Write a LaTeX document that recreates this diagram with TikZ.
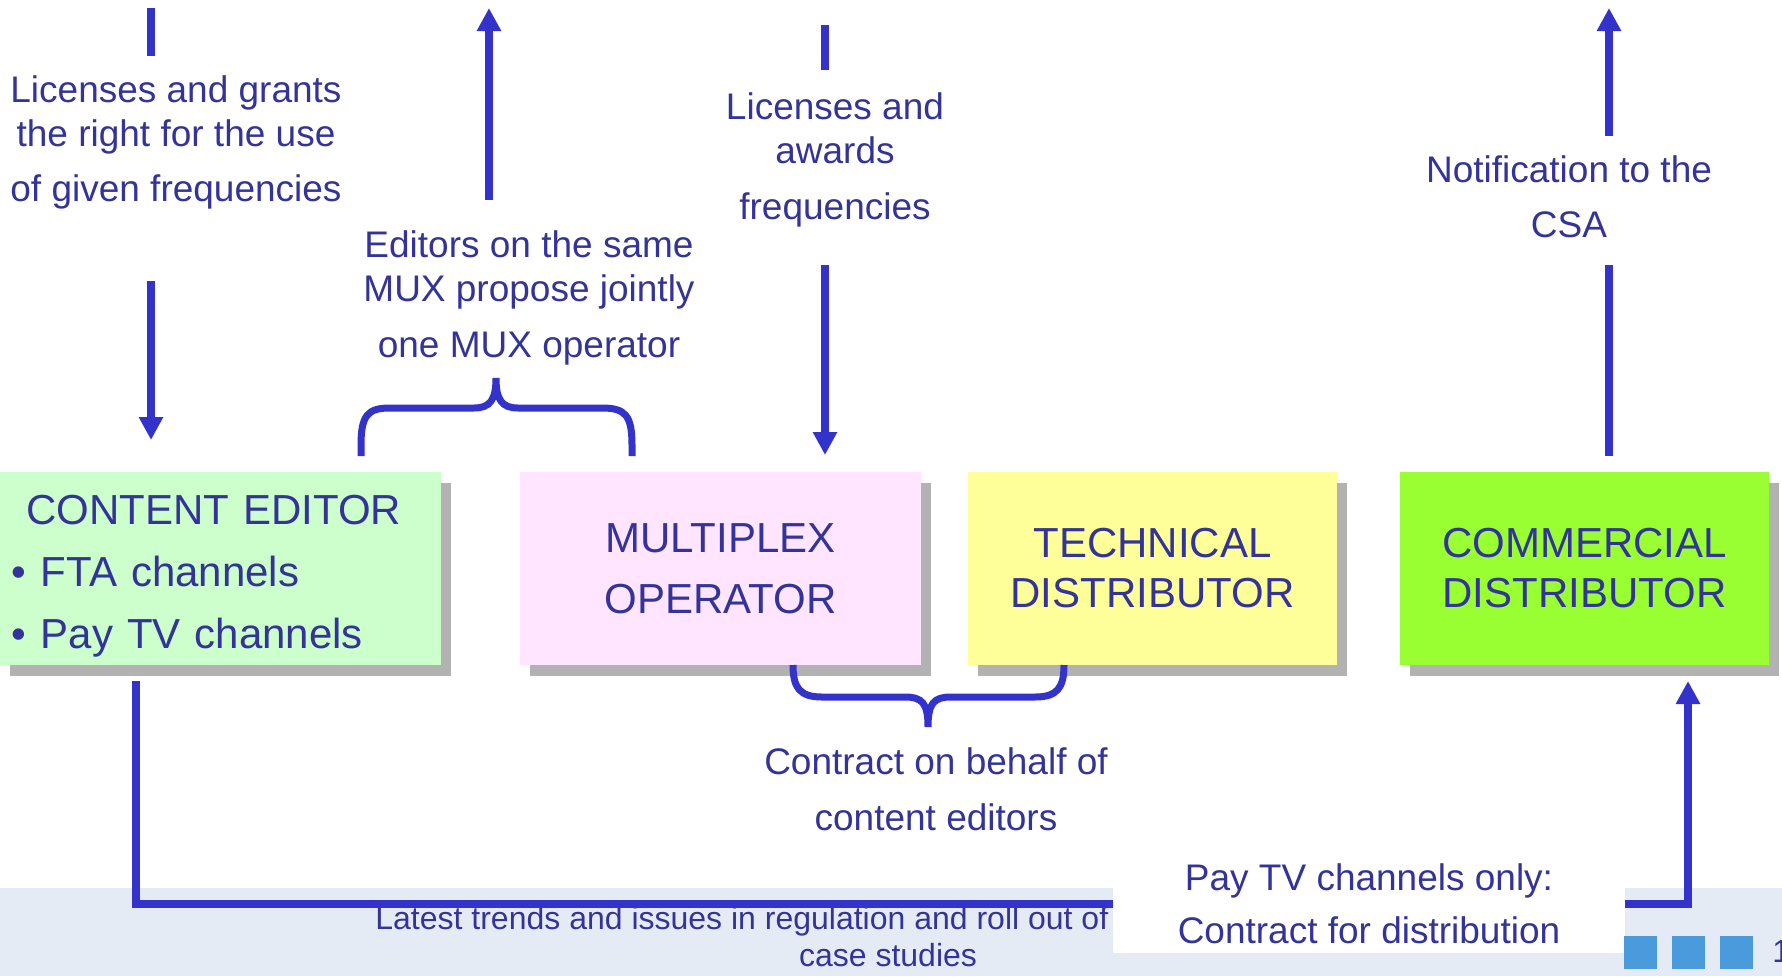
\documentclass[tikz,border=0pt]{standalone}
\usepackage{fontspec}
\setmainfont{Liberation Sans}
\usetikzlibrary{arrows.meta, positioning, shadows}

\definecolor{txtblue}{HTML}{333399}
\definecolor{arrowblue}{HTML}{3333CC}
\definecolor{cegreen}{HTML}{CCFFCC}
\definecolor{muxpink}{HTML}{FFE5FF}
\definecolor{tdyellow}{HTML}{FFFF99}
\definecolor{cdgreen}{HTML}{99FF33}
\definecolor{shadowgray}{HTML}{B2B2B2}
\definecolor{bandblue}{HTML}{E4EBF5}
\definecolor{sqblue}{HTML}{4A9BDC}

\begin{document}
\begin{tikzpicture}[x=0.5pt, y=-0.5pt,
    entity/.style={inner sep=0pt, outer sep=0pt, minimum height=96.5pt, text=txtblue, align=center,
      font=\fontsize{21}{25}\selectfont,
      general shadow={fill=shadowgray, shadow xshift=5pt, shadow yshift=-5.5pt}},
    note/.style={inner sep=0pt, outer sep=0pt, text=txtblue, align=center, anchor=north,
      font=\fontsize{18.5}{22}\selectfont},
    foot/.style={inner sep=0pt, text=txtblue, font=\fontsize{16}{18}\selectfont},
    flow/.style={draw=arrowblue, line width=4pt, -{Triangle[length=11.5pt, width=11.5pt]}},
    bar/.style={draw=arrowblue, line width=4pt},
    curly/.style={draw=arrowblue, line width=3.5pt}]
    \useasboundingbox (0,0) rectangle (1782,976);

    % footer band
    \fill[bandblue] (0,888) rectangle (1782,976);
    \node[foot, anchor=base west] (trends) at (375,929) {Latest trends and issues in regulation and roll out of};
    \node[foot, anchor=base] (studies) at (888,966) {case studies};
    \node[foot, anchor=base west] (pagenum) at (1772,962) {1};

    % the four players
    \node[entity, fill=cegreen, minimum width=220.5pt, text width=209.5pt, align=left, text depth=58.6pt,
      font=\fontsize{21}{31}\selectfont] (ce) at (220.5,568.5)
      {\hspace*{0.36em}CONTENT EDITOR\\ •\hspace{0.36em}FTA channels\\ •\hspace{0.36em}Pay TV channels};
    \node[entity, fill=muxpink, minimum width=200.5pt, right=39.5pt of ce] (mux) {MULTIPLEX\\[5.5pt]OPERATOR};
    \node[entity, fill=tdyellow, minimum width=184.5pt, right=23.5pt of mux] (td) {TECHNICAL\\DISTRIBUTOR};
    \node[entity, fill=cdgreen, minimum width=184.5pt, right=31.5pt of td] (cd) {COMMERCIAL\\DISTRIBUTOR};

    % texts
    \node[note] (grants) at (176,75.5) {Licenses and grants\\the right for the use\\[5.5pt]of given frequencies};
    \node[note] (jointly) at (529,230.5) {Editors on the same\\MUX propose jointly\\[6pt]one MUX operator};
    \node[note] (awards) at (835,92.5) {Licenses and\\awards\\[6pt]frequencies};
    \node[note] (notify) at (1569,155.5) {Notification to the\\[5.5pt]CSA};
    \node[note] (behalf) at (936,747.5) {Contract on behalf of\\[6pt]content editors};

    % arrow ends
    \coordinate (g0) at (151,8);   \coordinate (g1) at (151,56);
    \coordinate (g2) at (151,281); \coordinate (g3) at (151,440);
    \coordinate (j0) at (489,8);   \coordinate (j1) at (489,200);
    \coordinate (a0) at (825,25);  \coordinate (a1) at (825,70);
    \coordinate (a2) at (825,265); \coordinate (a3) at (825,455);
    \coordinate (n0) at (1609,8);  \coordinate (n1) at (1609,136);
    \coordinate (n2) at (1609,265); \coordinate (n3) at (1609,456);
    \coordinate (ebase) at (136,681); \coordinate (cbase) at (1688,681);
    \coordinate (bus) at (0,904);

    \draw[bar] (g0) -- (g1);
    \draw[flow] (g2) -- (g3);
    \draw[flow] (j1) -- (j0);
    \draw[bar] (a0) -- (a1);
    \draw[flow] (a2) -- (a3);
    \draw[flow] (n1) -- (n0);
    \draw[bar] (n3) -- (n2);
    \draw[flow] (ebase) -- (ebase |- bus) -- (cbase |- bus) -- (cbase);

    % braces
    \draw[curly] (361,456) -- (361,445) .. controls (361,415) and (368,408) .. (390,408) -- (474,408)
      .. controls (490,408) and (496,400) .. (496,378) .. controls (496,400) and (502,408) .. (518,408)
      -- (602,408) .. controls (625,408) and (632,415) .. (632,445) -- (632,456);
    \draw[curly] (793,665) .. controls (793,688) and (800,697) .. (822,697) -- (905,697)
      .. controls (922,697) and (928,703) .. (928,727) .. controls (928,703) and (934,697) .. (951,697)
      -- (1035,697) .. controls (1057,697) and (1064,688) .. (1064,665);

    \node[note, anchor=center, fill=white, minimum width=256pt, minimum height=49pt] (paytv) at (1369,904)
      {Pay TV channels only:\\[4.5pt]Contract for distribution};

    \foreach \x in {1624,1672,1720}
      \fill[sqblue] (\x,936) rectangle ++(33,33);
  \end{tikzpicture}
\end{document}
